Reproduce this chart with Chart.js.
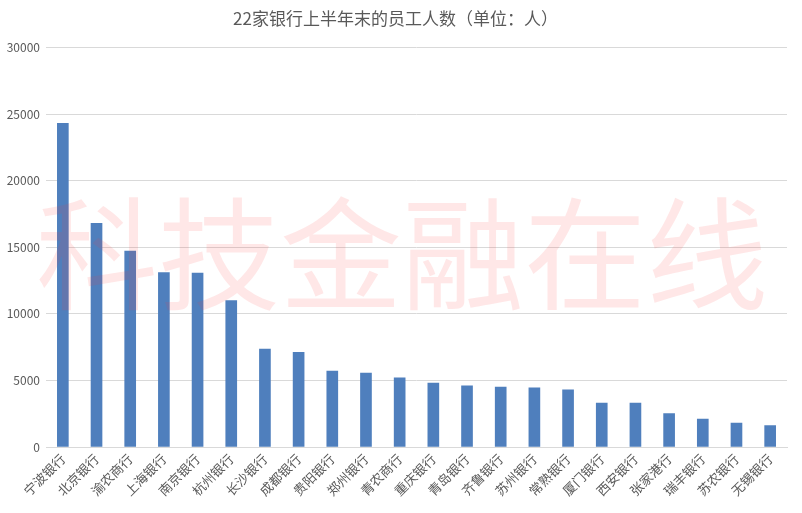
<!DOCTYPE html>
<html>
<head>
<meta charset="utf-8">
<script src="https://cdn.jsdelivr.net/npm/chart.js@4/dist/chart.umd.min.js"></script>
<style>
  html, body { margin: 0; padding: 0; background: #fff; }
  #wrap { width: 802px; height: 513px; }
</style>
</head>
<body>
<div id="wrap"><canvas id="chart"></canvas></div>
<script>
// 银行名称
const banks = ["宁波银行", "北京银行", "渝农商行", "上海银行", "南京银行", "杭州银行", "长沙银行",
  "成都银行", "贵阳银行", "郑州银行", "青农商行", "重庆银行", "青岛银行", "齐鲁银行",
  "苏州银行", "常熟银行", "厦门银行", "西安银行", "张家港行", "瑞丰银行", "苏农银行", "无锡银行"];
// 员工人数（人）
const staff = [24300, 16800, 14700, 13100, 13050, 11000, 7350,
  7100, 5700, 5550, 5200, 4800, 4600, 4500,
  4450, 4300, 3300, 3300, 2500, 2100, 1800, 1600];

const chartTitle = "22家银行上半年末的员工人数（单位：人）";
const watermark = "科技金融在线";

const FONT = "'Noto Sans CJK SC', 'Noto Sans', sans-serif";

// 水印
const watermarkPlugin = {
  id: "watermark",
  afterDraw(c) {
    const ctx = c.ctx;
    ctx.save();
    ctx.font = "122px " + FONT;
    ctx.fillStyle = "rgba(255, 60, 60, 0.12)";
    ctx.textAlign = "center";
    ctx.textBaseline = "middle";
    ctx.fillText(watermark, 402, 254);
    ctx.restore();
  }
};

new Chart(document.getElementById("chart"), {
  type: "bar",
  data: {
    labels: banks,
    datasets: [{ data: staff, backgroundColor: "#4f7fbd", barThickness: 11 }]
  },
  options: {
    responsive: true,
    maintainAspectRatio: false,
    animation: false,
    layout: { padding: { left: 4, right: 15, top: 0, bottom: 0 } },
    plugins: {
      legend: { display: false },
      tooltip: { enabled: false },
      title: {
        display: true,
        text: chartTitle,
        color: "#595959",
        font: { family: FONT, size: 17, weight: "normal" },
        padding: { top: 8, bottom: 19 }
      }
    },
    scales: {
      x: {
        afterFit: s => { s.height = 66; },
        grid: { display: false, drawTicks: false },
        border: { color: "#d9d9d9" },
        ticks: {
          color: "#595959",
          font: { family: FONT, size: 13 },
          minRotation: 45,
          maxRotation: 45,
          autoSkip: false,
          padding: 4
        }
      },
      y: {
        min: 0,
        max: 30000,
        afterFit: s => { s.width = 42; },
        grid: { color: "#d9d9d9", drawTicks: false },
        border: { display: false },
        ticks: {
          stepSize: 5000,
          color: "#595959",
          font: { family: FONT, size: 12 },
          padding: 6,
          callback: v => String(v)
        }
      }
    }
  },
  plugins: [watermarkPlugin]
});
</script>
</body>
</html>
